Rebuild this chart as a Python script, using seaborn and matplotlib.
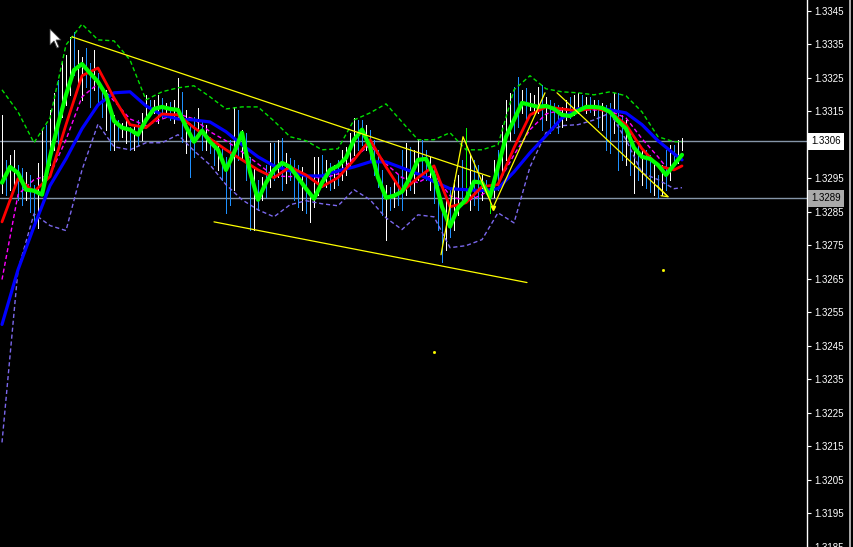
import numpy as np
import pandas as pd
import matplotlib.pyplot as plt
import matplotlib.transforms as mtransforms
from matplotlib.patches import Polygon
from matplotlib.lines import Line2D
import seaborn as sns

# EURUSD-like M1 chart

# bar highs / lows (one bar every 4 px)
highs = [1.33139, 1.33005, 1.33020, 1.33035, 1.32990, 1.32981, 1.32969, 1.32960, 1.32931, 1.32996,
         1.33095, 1.33110, 1.33154, 1.33205, 1.33244, 1.33297, 1.33318, 1.33372, 1.33387, 1.33333,
         1.33312, 1.33339, 1.33294, 1.33333, 1.33264, 1.33223, 1.33214, 1.33154, 1.33139, 1.33124,
         1.33115, 1.33124, 1.33104, 1.33110, 1.33124, 1.33145, 1.33199, 1.33184, 1.33184, 1.33199,
         1.33190, 1.33175, 1.33178, 1.33184, 1.33250, 1.33208, 1.33154, 1.33115, 1.33133, 1.33160,
         1.33124, 1.33110, 1.33074, 1.33065, 1.33050, 1.33044, 1.33014, 1.33065, 1.33163, 1.33154,
         1.33095, 1.33086, 1.33014, 1.32984, 1.32946, 1.32955, 1.32990, 1.33056, 1.33056, 1.33065,
         1.33071, 1.33026, 1.33011, 1.33005, 1.32990, 1.32984, 1.32960, 1.32907, 1.33014, 1.33014,
         1.33020, 1.33005, 1.32996, 1.32990, 1.33005, 1.33035, 1.33044, 1.33086, 1.33130, 1.33124,
         1.33124, 1.33110, 1.33095, 1.33065, 1.33035, 1.32975, 1.32931, 1.32925, 1.32946, 1.32960,
         1.33035, 1.33056, 1.33044, 1.33035, 1.33065, 1.33065, 1.33035, 1.33014, 1.32990, 1.32946,
         1.32856, 1.32886, 1.32916, 1.32946, 1.32960, 1.33005, 1.33101, 1.33020, 1.33005, 1.32990,
         1.32960, 1.32946, 1.32916, 1.33005, 1.33035, 1.33110, 1.33184, 1.33205, 1.33223, 1.33253,
         1.33214, 1.33220, 1.33205, 1.33199, 1.33223, 1.33229, 1.33193, 1.33184, 1.33175, 1.33169,
         1.33163, 1.33184, 1.33193, 1.33199, 1.33205, 1.33199, 1.33193, 1.33193, 1.33184, 1.33184,
         1.33175, 1.33169, 1.33175, 1.33205, 1.33205, 1.33139, 1.33124, 1.33095, 1.33035, 1.33056,
         1.33035, 1.33035, 1.33020, 1.33005, 1.32960, 1.32990, 1.33035, 1.33050, 1.33050, 1.33065,
         1.33071]
lows = [1.32907, 1.32901, 1.32916, 1.32922, 1.32886, 1.32871, 1.32886, 1.32850, 1.32812, 1.32803,
        1.32916, 1.32975, 1.32990, 1.33035, 1.33044, 1.33133, 1.33169, 1.33199, 1.33258, 1.33229,
        1.33184, 1.33223, 1.33163, 1.33214, 1.33175, 1.33133, 1.33095, 1.33035, 1.33035, 1.33065,
        1.33074, 1.33056, 1.33035, 1.33035, 1.33050, 1.33065, 1.33133, 1.33139, 1.33145, 1.33115,
        1.33133, 1.33133, 1.33124, 1.33115, 1.33133, 1.33059, 1.33026, 1.32955, 1.33014, 1.33074,
        1.33035, 1.33035, 1.33026, 1.32990, 1.32975, 1.32946, 1.32847, 1.32871, 1.32916, 1.33005,
        1.33005, 1.32946, 1.32797, 1.32797, 1.32856, 1.32886, 1.32895, 1.32925, 1.32946, 1.32955,
        1.32916, 1.32937, 1.32946, 1.32886, 1.32865, 1.32856, 1.32847, 1.32820, 1.32865, 1.32901,
        1.32925, 1.32925, 1.32916, 1.32922, 1.32931, 1.32946, 1.32960, 1.32984, 1.33020, 1.33035,
        1.33050, 1.33035, 1.33005, 1.32960, 1.32925, 1.32841, 1.32767, 1.32856, 1.32865, 1.32871,
        1.32856, 1.32901, 1.32916, 1.32907, 1.32946, 1.32960, 1.32946, 1.32916, 1.32877, 1.32797,
        1.32701, 1.32737, 1.32776, 1.32797, 1.32841, 1.32871, 1.32895, 1.32856, 1.32871, 1.32856,
        1.32886, 1.32907, 1.32847, 1.32895, 1.32916, 1.32960, 1.33005, 1.33065, 1.33086, 1.33104,
        1.33145, 1.33124, 1.33154, 1.33148, 1.33145, 1.33095, 1.33124, 1.33086, 1.33110, 1.33086,
        1.33104, 1.33124, 1.33130, 1.33139, 1.33145, 1.33154, 1.33145, 1.33148, 1.33139, 1.33104,
        1.33095, 1.33035, 1.33026, 1.33086, 1.32975, 1.33005, 1.32990, 1.32960, 1.32907, 1.32946,
        1.32931, 1.32922, 1.32910, 1.32901, 1.32892, 1.32901, 1.32916, 1.32946, 1.32990, 1.32996,
        1.33035]
# w = up bar, b = down bar, g = neutral
bar_kind = ("wbwwbbwbbw" "wbwwbwwwbw" "wbbwbbwbwb" "wwbwbwwbww" "bwbwwbwbbw"
            "bwbbwbbbwb" "wbbwbwbwbw" "bwbbbwbwww" "bwbwbwwwwb" "bwbbbbwbwb"
            "bwbwwbbwbb" "bwbwwbgwbb" "wbgwbwwwbb" "wbwwwbwbbb" "wwbwwbwbwb"
            "wbbwbbwbwb" "wbbwbwbwbw" "w")

# indicators (sampled bars)
fast_ma = [1.32937, 1.32984, 1.32966, 1.32916, 1.32913, 1.32901, 1.33014, 1.33110, 1.33199, 1.33273,
           1.33291, 1.33264, 1.33238, 1.33199, 1.33121, 1.33101, 1.33095, 1.33080, 1.33124, 1.33157,
           1.33163, 1.33157, 1.33154, 1.33104, 1.33059, 1.33092, 1.33059, 1.33035, 1.32975, 1.33026,
           1.33086, 1.32969, 1.32886, 1.32937, 1.32975, 1.32996, 1.32984, 1.32952, 1.32919, 1.32889,
           1.32937, 1.32975, 1.32987, 1.33011, 1.33065, 1.33095, 1.33044, 1.32952, 1.32892, 1.32898,
           1.32910, 1.32952, 1.33005, 1.33008, 1.32957, 1.32865, 1.32806, 1.32862, 1.32886, 1.32940,
           1.32937, 1.32895, 1.32984, 1.33074, 1.33124, 1.33175, 1.33169, 1.33163, 1.33166, 1.33157,
           1.33139, 1.33136, 1.33151, 1.33163, 1.33163, 1.33160, 1.33148, 1.33121, 1.33098, 1.33041,
           1.33014, 1.33008, 1.32990, 1.32960, 1.32990, 1.33020]
mid_ma = [1.32820, 1.32949, 1.32910, 1.32955, 1.33110, 1.33256, 1.33279, 1.33190, 1.33110, 1.33101,
          1.33142, 1.33139, 1.33101, 1.33068, 1.33035, 1.33005, 1.32975, 1.32952, 1.32984, 1.32960,
          1.32925, 1.32952, 1.33005, 1.33065, 1.32984, 1.32910, 1.32952, 1.32987, 1.32865, 1.32877,
          1.32925, 1.32931, 1.33041, 1.33139, 1.33163, 1.33157, 1.33151, 1.33160, 1.33148, 1.33110,
          1.33038, 1.32987, 1.32975, 1.32987]
slow_ma = [1.32514, 1.32677, 1.32806, 1.32928, 1.33008, 1.33098, 1.33169, 1.33205, 1.33208, 1.33166,
           1.33139, 1.33127, 1.33124, 1.33118, 1.33089, 1.33050, 1.33014, 1.32987, 1.32972, 1.32957,
           1.32957, 1.32972, 1.32984, 1.32999, 1.32999, 1.32981, 1.32963, 1.32940, 1.32919, 1.32916,
           1.32913, 1.32919, 1.32969, 1.33026, 1.33077, 1.33130, 1.33157, 1.33163, 1.33154, 1.33145,
           1.33110, 1.33062, 1.33023, 1.33005]
signal_ma = [1.32648, 1.32901, 1.32946, 1.32960, 1.33065, 1.33193, 1.33232, 1.33181, 1.33127, 1.33107,
             1.33127, 1.33142, 1.33127, 1.33089, 1.33062, 1.33029, 1.32993, 1.32957, 1.32955, 1.32960,
             1.32949, 1.32963, 1.33011, 1.33050, 1.32993, 1.32952, 1.32937, 1.32963, 1.32898, 1.32880,
             1.32901, 1.32934, 1.33020, 1.33095, 1.33142, 1.33154, 1.33154, 1.33154, 1.33151, 1.33130,
             1.33068, 1.33014, 1.32984]
band_up = [1.33214, 1.33148, 1.33056, 1.33130, 1.33348, 1.33410, 1.33363, 1.33360, 1.33303, 1.33184,
           1.33208, 1.33220, 1.33226, 1.33193, 1.33157, 1.33163, 1.33163, 1.33121, 1.33074, 1.33062,
           1.33035, 1.33038, 1.33124, 1.33145, 1.33172, 1.33118, 1.33065, 1.33065, 1.33086, 1.33035,
           1.33035, 1.33050, 1.33214, 1.33256, 1.33217, 1.33208, 1.33205, 1.33199, 1.33208, 1.33196,
           1.33148, 1.33074, 1.33059, 1.33059]
band_low = [1.32162, 1.32677, 1.32844, 1.32809, 1.32794, 1.32975, 1.33112, 1.33044, 1.33035, 1.33056,
            1.33056, 1.33080, 1.33032, 1.32990, 1.32931, 1.32886, 1.32856, 1.32835, 1.32871, 1.32883,
            1.32874, 1.32868, 1.32916, 1.32886, 1.32832, 1.32797, 1.32841, 1.32835, 1.32743, 1.32749,
            1.32767, 1.32847, 1.32817, 1.32984, 1.33086, 1.33107, 1.33110, 1.33124, 1.33145, 1.33065,
            1.32966, 1.32946, 1.32919, 1.32922]

fast_idx = list(range(0, 171, 2))
slow_idx = list(range(0, 169, 4)) + [170]
signal_idx = list(range(0, 165, 4)) + [166]

# drawn objects: (bar, price) pairs
trend_upper = [(17.5, 1.33372), (122.0, 1.32955)]
trend_lower = [(53.0, 1.32820), (131.25, 1.32639)]
zigzag = [(109.75, 1.32722), (115.25, 1.33074), (122.75, 1.32862), (135.75, 1.33205)]
trend_down = [(138.75, 1.33205), (166.5, 1.32895)]
arrow_head = [(163.75, 1.32928), (166.5, 1.32895), (164.75, 1.32898)]
dots = [(108.0, 1.32433), (165.25, 1.32677)]

levels = [1.3306, 1.3289]
level_bg = ['white', '#a9a9a9']
price_ticks = [1.3345, 1.3335, 1.3325, 1.3315, 1.3305, 1.3295, 1.3285, 1.3275, 1.3265,
               1.3255, 1.3245, 1.3235, 1.3225, 1.3215, 1.3205, 1.3195, 1.3185]

sns.set_theme(style='dark', rc={'axes.facecolor': 'black', 'figure.facecolor': 'black'})
plt.rcParams['font.family'] = ['Liberation Sans', 'DejaVu Sans']

W, H = 854, 547
fig = plt.figure(figsize=(W / 100, H / 100), dpi=100)
ax = fig.add_axes([0, 0, 807 / W, 1])
ax.set_facecolor('black')

bars = pd.DataFrame({'bar': np.arange(len(highs)), 'high': highs, 'low': lows,
                     'kind': list(bar_kind)})
col_map = {'w': 'white', 'b': '#1e90ff', 'g': '#00ff00'}
ax.vlines(bars['bar'], bars['low'], bars['high'], colors=bars['kind'].map(col_map),
          linewidth=0.72, antialiased=False, zorder=2)

for lv in levels:
    ax.axhline(lv, color='#8595a8', linewidth=1.0, zorder=1.5)

dash = (3, 2)
sns.lineplot(x=signal_idx, y=signal_ma, ax=ax, color='#ff00ff', linewidth=1.0,
             linestyle=(0, dash), zorder=3)
sns.lineplot(x=slow_idx, y=band_up, ax=ax, color='#00e000', linewidth=1.0,
             linestyle=(0, dash), zorder=3)
sns.lineplot(x=slow_idx, y=band_low, ax=ax, color='#7b68ee', linewidth=1.0,
             linestyle=(0, dash), zorder=3)
sns.lineplot(x=slow_idx, y=slow_ma, ax=ax, color='#0000ff', linewidth=2.3, zorder=4)
sns.lineplot(x=slow_idx, y=mid_ma, ax=ax, color='#ff0000', linewidth=2.0, zorder=4)
sns.lineplot(x=fast_idx, y=fast_ma, ax=ax, color='#00ff00', linewidth=3.0, zorder=5)

for obj in [trend_upper, trend_lower, zigzag, trend_down, arrow_head]:
    xs, ys = zip(*obj)
    ax.plot(xs, ys, color='#ffff00', linewidth=0.9, zorder=6)
ax.plot([zigzag[2][0]], [zigzag[2][1]], marker='v', color='#ffff00', markersize=3, zorder=6)
for dx, dy in dots:
    ax.plot([dx], [dy], marker='s', color='#ffff00', markersize=1, zorder=6)

ax.set_xlim(-0.5, 807 / 4 - 0.5)
ax.set_ylim(1.318525, 1.334819)
ax.set_xticks([])
ax.set_yticks(price_ticks)
ax.set_yticklabels([f'{t:.4f}' for t in price_ticks])
ax.yaxis.tick_right()
ax.tick_params(axis='y', colors='white', direction='out', length=3, width=0.8,
               pad=2, labelsize=7, right=True, left=False)
ax.grid(False)
for side in ['left', 'top', 'bottom']:
    ax.spines[side].set_visible(False)
ax.spines['right'].set_color('white')
ax.spines['right'].set_linewidth(1.0)

# current price boxes on the scale (cover the tick label beneath)
trans = mtransforms.blended_transform_factory(ax.transAxes, ax.transData)
for lv, bg in zip(levels, level_bg):
    ax.text(1.005, lv, f'{lv:.4f}', transform=trans, ha='left', va='center',
            fontsize=7, color='black', clip_on=False, zorder=10,
            bbox=dict(boxstyle='square,pad=0.35', fc=bg, ec='none'))

# window border on the far right
fig.add_artist(Line2D([850.5 / W, 850.5 / W], [0, 1], color='#c8c8c8', linewidth=1.2))

# mouse pointer
cursor_px = [(50, 29), (50, 45), (54, 41), (57, 48), (59, 47), (56, 40), (61, 40)]
fig.add_artist(Polygon([(x / W, 1 - y / H) for x, y in cursor_px], closed=True,
                       transform=fig.transFigure, fc='white', ec='#404040', lw=0.6))

fig.savefig('out.png', dpi=100, facecolor='black')
